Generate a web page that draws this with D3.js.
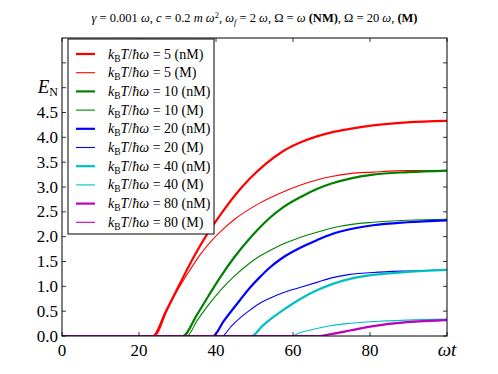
<!DOCTYPE html>
<html><head><meta charset="utf-8">
<script src="https://cdn.jsdelivr.net/npm/d3@7"></script>
<style>
body{margin:0;background:#fff;}
svg text, svg tspan{font-family:'Liberation Serif','Times New Roman',serif !important;}
</style></head>
<body><svg id="c" width="498" height="374" font-family="Liberation Serif, Times New Roman, serif"></svg>
<script>
// ---- data ----
const temps = ["5", "10", "20", "40", "80"];
const models = ["nM", "M"];
const colors = ["#ff0000", "#008000", "#0000ff", "#00bfbf", "#bf00bf"];
const xTicks = [0, 20, 40, 60, 80];
const yTicks = [0, 0.5, 1.0, 1.5, 2.0, 2.5, 3.0, 3.5, 4.0, 4.5];
const yMinorTicks = [5.0, 5.5];

const T5_nM = [[0,0],[23.6,0],[27,0.5],[30.6,1.05],[34,1.56],[37.7,2.05],[41.5,2.48],[45,2.84],[48.8,3.17],[53,3.47],[57.4,3.72],[62,3.9],[66.2,4.02],[70,4.1],[74.8,4.17],[80.8,4.24],[89.6,4.3],[100,4.33]];
const T5_M  = [[0,0],[24.2,0],[27.2,0.5],[30,0.92],[33,1.3],[36,1.65],[39,1.93],[42,2.16],[45,2.36],[48.8,2.56],[51.2,2.67],[57.4,2.9],[62,3.04],[66.2,3.14],[70,3.21],[74.8,3.27],[80.8,3.3],[89.6,3.33],[100,3.33]];
const T10_nM = [[0,0],[31.4,0],[35,0.42],[38,0.8],[41,1.17],[44.7,1.58],[48.8,1.97],[51.2,2.17],[54,2.38],[57.4,2.59],[62,2.8],[66.2,2.96],[70,3.07],[74.8,3.17],[80.8,3.25],[90,3.3],[100,3.33]];
const T10_M  = [[0,0],[32.5,0],[35,0.3],[38,0.62],[41.5,0.95],[44.7,1.2],[48.8,1.47],[51.2,1.6],[54,1.72],[57.4,1.85],[62,1.99],[66.2,2.09],[72.2,2.21],[80.8,2.29],[89.6,2.33],[100,2.35]];
const T20_nM = [[0,0],[39.2,0],[42,0.3],[46.2,0.72],[48.8,0.97],[51.2,1.17],[54,1.38],[57.4,1.58],[62,1.78],[66.2,1.93],[70,2.05],[74.8,2.15],[80.8,2.23],[89.6,2.29],[100,2.33]];
const T20_M  = [[0,0],[41.6,0],[44,0.2],[46.5,0.38],[48.8,0.52],[51.2,0.65],[54,0.76],[57.4,0.87],[62,0.98],[66.2,1.08],[70,1.17],[74.8,1.24],[80.8,1.28],[89.6,1.31],[100,1.33]];
const T40_nM = [[0,0],[49.3,0],[52,0.2],[54.5,0.36],[57.4,0.52],[62,0.75],[66.2,0.92],[70,1.04],[74.8,1.15],[80.8,1.23],[89.6,1.29],[100,1.33]];
const T40_M  = [[0,0],[59.5,0],[62,0.07],[66.2,0.15],[70,0.21],[74,0.25],[80.8,0.29],[89.6,0.32],[100,0.34]];
const T80_nM = [[0,0],[66.5,0],[70,0.04],[74.8,0.11],[80.8,0.2],[89.6,0.28],[100,0.32]];
const T80_M  = [[0,0],[67,0],[70,0.04],[74.8,0.11],[80.8,0.2],[89.6,0.28],[100,0.32]];

const seriesData = [[T5_nM, T5_M], [T10_nM, T10_M], [T20_nM, T20_M], [T40_nM, T40_M], [T80_nM, T80_M]];

// ---- layout ----
const FONT = "Liberation Serif";
const svg = d3.select("#c");
const L = 62, R = 447, T = 38, B = 336;
const x = d3.scaleLinear().domain([0, 100]).range([L, R]);
const y = d3.scaleLinear().domain([0, 6]).range([B, T]);

svg.append("defs").append("clipPath").attr("id", "clip")
  .append("rect").attr("x", L).attr("y", T).attr("width", R - L).attr("height", B - T);

// series
const line = d3.line().x(d => x(d[0])).y(d => y(d[1])).curve(d3.curveMonotoneX);
const g = svg.append("g").attr("clip-path", "url(#clip)");
seriesData.forEach((pair, i) => {
  pair.forEach((data, j) => {
    g.append("path").datum(data).attr("d", line)
      .attr("fill", "none").attr("stroke", colors[i])
      .attr("stroke-width", j === 0 ? 2.2 : 1.1)
      .attr("stroke-linejoin", "round");
  });
});

// ticks (inward, all four sides)
const tk = svg.append("g").attr("stroke", "#000").attr("stroke-width", 0.8);
xTicks.concat([100]).forEach(v => {
  tk.append("line").attr("x1", x(v)).attr("x2", x(v)).attr("y1", B).attr("y2", B - 4);
  tk.append("line").attr("x1", x(v)).attr("x2", x(v)).attr("y1", T).attr("y2", T + 4);
});
yTicks.concat(yMinorTicks).forEach(v => {
  tk.append("line").attr("x1", L).attr("x2", L + 4).attr("y1", y(v)).attr("y2", y(v));
  tk.append("line").attr("x1", R).attr("x2", R - 4).attr("y1", y(v)).attr("y2", y(v));
});

// frame
svg.append("rect").attr("x", L).attr("y", T).attr("width", R - L).attr("height", B - T)
  .attr("fill", "none").attr("stroke", "#000").attr("stroke-width", 1);

// tick labels
const txt = (sel) => sel.attr("font-family", FONT).style("font-family", "'" + FONT + "'").attr("fill", "#000");
xTicks.forEach(v => {
  svg.append("text").call(txt).attr("x", x(v)).attr("y", 356).attr("text-anchor", "middle")
    .attr("font-size", 17).text(v);
});
svg.append("text").call(txt).attr("x", x(100)).attr("y", 356).attr("text-anchor", "middle")
  .attr("font-size", 19).attr("font-style", "italic").text("ωt");
yTicks.forEach(v => {
  svg.append("text").call(txt).attr("x", 58).attr("y", y(v) + 5.5).attr("text-anchor", "end")
    .attr("font-size", 17).text(v.toFixed(1));
});
const en = svg.append("text").call(txt).attr("x", 58).attr("y", y(5.0) + 5).attr("text-anchor", "end").attr("font-size", 19);
en.append("tspan").attr("font-style", "italic").text("E");
en.append("tspan").attr("font-size", 12).attr("dy", 3).text("N");

// title
const tt = svg.append("text").call(txt).attr("x", (L + R) / 2).attr("y", 22).attr("text-anchor", "middle").attr("font-size", 12.5);
const parts = [["γ","i"],[" = 0.001 ",""],["ω","i"],[", ",""],["c","i"],[" = 0.2 ",""],["m","i"],[" ",""],["ω","i"],["2","sup"],[", ",""],["ω","i"],["f","sub"],[" = 2 ",""],["ω","i"],[", Ω = ",""],["ω","i"],[" ",""],["(NM)","b"],[", Ω = 20 ",""],["ω","i"],[", ",""],["(M)","b"]];
let shift = 0;
parts.forEach(([s, st]) => {
  const ts = tt.append("tspan").text(s);
  let target = 0;
  if (st === "i") ts.attr("font-style", "italic");
  if (st === "b") ts.attr("font-weight", "bold");
  if (st === "sup") { ts.attr("font-size", 8.5); target = -4; }
  if (st === "sub") { ts.attr("font-size", 8.5); ts.attr("font-style", "italic"); target = 3; }
  ts.attr("dy", target - shift); shift = target;
});

// legend
const lg = svg.append("g");
lg.append("rect").attr("x", 68).attr("y", 39).attr("width", 146).attr("height", 195)
  .attr("fill", "#fff").attr("stroke", "#000").attr("stroke-width", 1);
let k = 0;
temps.forEach((tv, i) => {
  models.forEach((m, j) => {
    const yy = 54 + k * 18.7;
    lg.append("line").attr("x1", 76).attr("x2", 95).attr("y1", yy).attr("y2", yy)
      .attr("stroke", colors[i]).attr("stroke-width", j === 0 ? 2.2 : 1.1);
    const t = lg.append("text").call(txt).attr("x", 108).attr("y", yy + 4.5).attr("font-size", 14);
    t.append("tspan").attr("font-style", "italic").text("k");
    t.append("tspan").attr("font-size", 9.5).attr("dy", 3).text("B");
    t.append("tspan").attr("font-style", "italic").attr("dy", -3).text("T");
    t.append("tspan").text("/");
    t.append("tspan").attr("font-style", "italic").text("ħω");
    t.append("tspan").text(" = " + tv + " (" + m + ")");
    k++;
  });
});
</script></body></html>
